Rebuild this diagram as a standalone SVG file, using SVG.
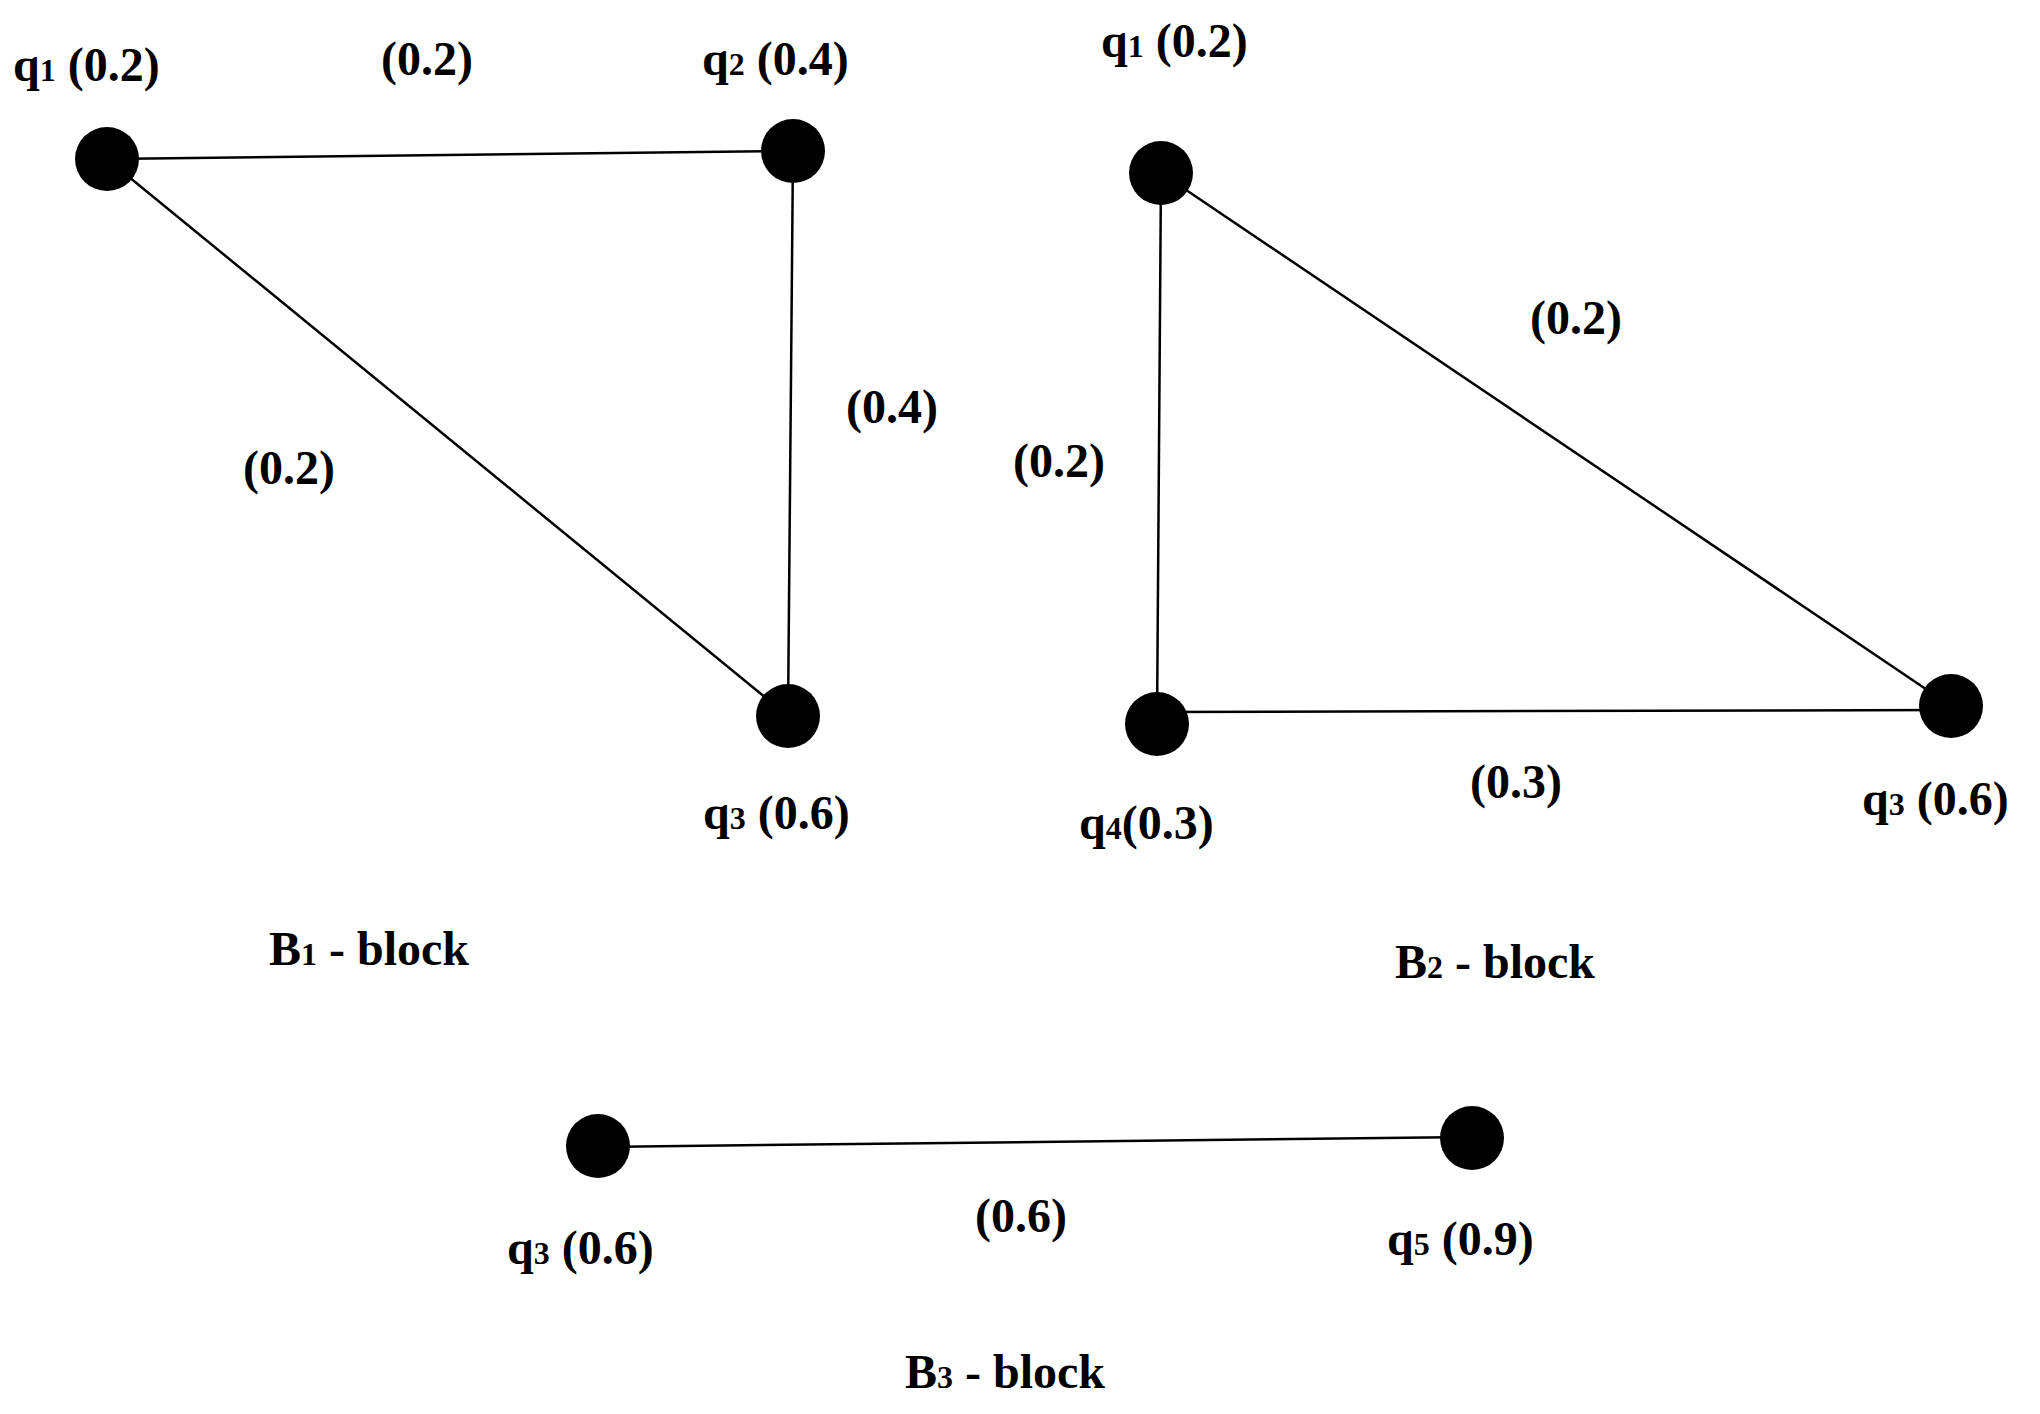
<svg xmlns="http://www.w3.org/2000/svg" width="2040" height="1414" viewBox="0 0 2040 1414">
<style>
text{font-family:"Liberation Serif","Times New Roman",serif;font-weight:bold;font-size:48px;fill:#000}
.s{font-size:32px}
line{stroke:#000;stroke-width:2.5}
circle{fill:#000}
</style>
<rect width="2040" height="1414" fill="#fff"/>
<g id="connectors">
<line x1="107" y1="159" x2="793" y2="151"/>
<line x1="107" y1="159" x2="788" y2="716"/>
<line x1="793" y1="151" x2="788" y2="716"/>
<line x1="1161" y1="173" x2="1157" y2="724"/>
<line x1="1161" y1="173" x2="1951" y2="706"/>
<line x1="1157" y1="712" x2="1951" y2="710"/>
<line x1="598" y1="1147" x2="1472" y2="1137"/>
</g>
<g id="edge-labels">
<text x="381" y="75">(0.2)</text>
<text x="846" y="423">(0.4)</text>
<text x="243" y="484">(0.2)</text>
<text x="1530" y="334">(0.2)</text>
<text x="1013" y="477">(0.2)</text>
<text x="1470" y="798">(0.3)</text>
<text x="975" y="1232">(0.6)</text>
</g>
<g id="b1-q1"><circle cx="107" cy="159" r="32"/><text x="13" y="81">q<tspan class="s">1</tspan> (0.2)</text></g>
<g id="b1-q2"><circle cx="793" cy="151" r="32"/><text x="702" y="75">q<tspan class="s">2</tspan> (0.4)</text></g>
<g id="b1-q3"><circle cx="788" cy="716" r="32"/><text x="703" y="829">q<tspan class="s">3</tspan> (0.6)</text></g>
<g id="b2-q1"><circle cx="1161" cy="173" r="32"/><text x="1101" y="57">q<tspan class="s">1</tspan> (0.2)</text></g>
<g id="b2-q4"><circle cx="1157" cy="724" r="32"/><text x="1079" y="839">q<tspan class="s">4</tspan>(0.3)</text></g>
<g id="b2-q3"><circle cx="1951" cy="706" r="32"/><text x="1862" y="815">q<tspan class="s">3</tspan> (0.6)</text></g>
<g id="b3-q3"><circle cx="598" cy="1146" r="32"/><text x="507" y="1264">q<tspan class="s">3</tspan> (0.6)</text></g>
<g id="b3-q5"><circle cx="1472" cy="1138" r="32"/><text x="1387" y="1255">q<tspan class="s">5</tspan> (0.9)</text></g>
<g id="titles">
<text x="269" y="965">B<tspan class="s">1</tspan> - block</text>
<text x="1395" y="978">B<tspan class="s">2</tspan> - block</text>
<text x="905" y="1388">B<tspan class="s">3</tspan> - block</text>
</g>
</svg>
